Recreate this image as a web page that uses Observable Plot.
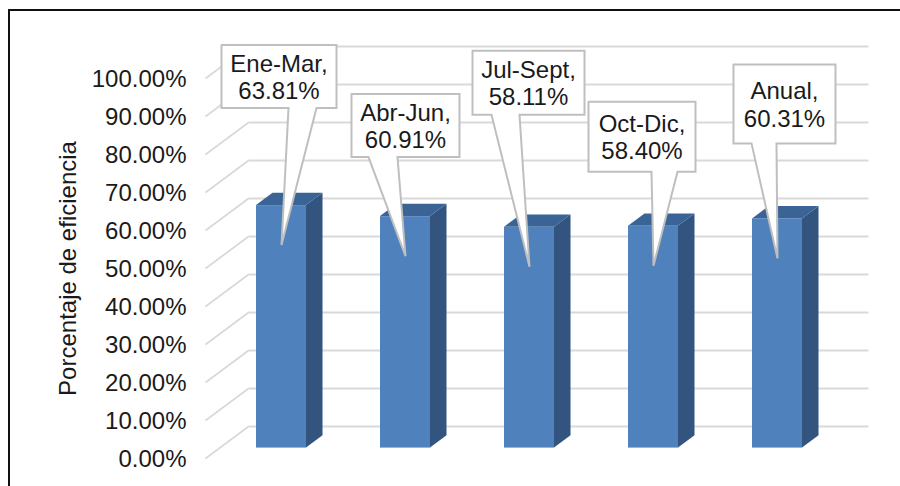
<!DOCTYPE html>
<html>
<head>
<meta charset="utf-8">
<script src="https://cdn.jsdelivr.net/npm/d3@7"></script>
<script src="https://cdn.jsdelivr.net/npm/@observablehq/plot@0.6"></script>
<style>
  html, body { margin: 0; padding: 0; background: #fff; overflow: hidden; }
  #chart { position: relative; width: 900px; height: 486px; }
  #chart svg { display: block; position: absolute; left: 0; top: 0; }
  #border { position: absolute; left: 8px; top: 9px; right: 0; bottom: 0; border-left: 2px solid #111; border-top: 2px solid #111; }
</style>
</head>
<body>
<div id="chart"><div id="border"></div></div>
<script>
// Data
const categories = ["Ene-Mar", "Abr-Jun", "Jul-Sept", "Oct-Dic", "Anual"];
const values = [63.81, 60.91, 58.11, 58.40, 60.31];
const labelValues = ["63.81%", "60.91%", "58.11%", "58.40%", "60.31%"];
const yTicks = [0, 10, 20, 30, 40, 50, 60, 70, 80, 90, 100];
const yTitle = "Porcentaje de eficiencia";

// Layout of the frame
const width = 900, height = 486;
const marginLeft = 205, marginRight = 75, marginTop = 78, marginBottom = 28;
const pxX = categories.length / (width - marginLeft - marginRight); // data units per pixel
const pxY = 100 / (height - marginTop - marginBottom);

// Oblique projection: depth 0 = front plane, 1 = back wall
const wallDx = 43 * pxX, wallDy = 32 * pxY;
const barDepthFront = 14 / 43, barDepthBack = 30.5 / 43;
const barHalf = 25 * pxX;
const px = (i, d) => i + d * wallDx;
const py = (v, d) => v + d * wallDy;

// Callout placement, pixel offsets from the tip of each pointer
const boxLeft = [-60, -54, -57, -65, -44];
const boxRight = [55, 54, 55, 42, 58];
const boxTop = [-200, -162, -216, -164, -194];
const boxBottom = [-137, -99, -152, -94, -115];
const tailLeft = [7, -37, -38, -2, -26];
const tailRight = [35, -8, -10, 24, -1];
const tipDrop = 39.5;

const bars = categories.map((c, i) => ({
  c, v: values[i],
  xl: i + 0.5 - barHalf, xr: i + 0.5 + barHalf
}));

function sidePoly(b) {
  return [
    {x1: px(b.xr, barDepthFront), y1: py(0, barDepthFront), x2: px(b.xr, barDepthFront), y2: py(b.v, barDepthFront), c: b.c},
    {x1: px(b.xr, barDepthBack), y1: py(0, barDepthBack), x2: px(b.xr, barDepthBack), y2: py(b.v, barDepthBack), c: b.c}
  ];
}
function topPoly(b) {
  return [
    {x1: px(b.xl, barDepthFront), y1: py(b.v, barDepthFront), x2: px(b.xl, barDepthBack), y2: py(b.v, barDepthBack), c: b.c},
    {x1: px(b.xr, barDepthFront), y1: py(b.v, barDepthFront), x2: px(b.xr, barDepthBack), y2: py(b.v, barDepthBack), c: b.c}
  ];
}

const callouts = categories.map((c, i) => {
  const tx = px(i + 0.5, barDepthFront);
  const ty = py(values[i], barDepthFront) - tipDrop * pxY;
  const X = o => tx + o * pxX;
  const Y = o => ty - o * pxY;
  const l = X(boxLeft[i]), r = X(boxRight[i]), t = Y(boxTop[i]), b = Y(boxBottom[i]);
  return {
    c, i,
    cx: (l + r) / 2, cy: (t + b) / 2,
    text: `${c},\n${labelValues[i]}`,
    pts: [
      {x: l, y: t, c}, {x: r, y: t, c}, {x: r, y: b, c},
      {x: X(tailRight[i]), y: b, c}, {x: tx, y: ty, c}, {x: X(tailLeft[i]), y: b, c},
      {x: l, y: b, c}, {x: l, y: t, c}
    ]
  };
});

const gridColor = "#d9d9d9", frontColor = "#4f81bd", sideColor = "#32547f", topColor = "#3b6496", calloutStroke = "#bfbfbf";
const font = "'Liberation Sans', Arial, sans-serif";

const chart = Plot.plot({
  width, height, marginLeft, marginRight, marginTop, marginBottom,
  style: {fontFamily: font, background: "transparent"},
  x: {domain: [0, categories.length], axis: null},
  y: {domain: [0, 100], axis: null},
  marks: [
    // walls
    Plot.link(yTicks, {x1: px(0, 0), y1: d => py(d, 0), x2: px(0, 1), y2: d => py(d, 1), stroke: gridColor, strokeWidth: 1.8}),
    Plot.link(yTicks, {x1: px(0, 1), y1: d => py(d, 1), x2: px(categories.length, 1), y2: d => py(d, 1), stroke: gridColor, strokeWidth: 2}),
    // axis
    Plot.axisY(yTicks, {anchor: "left", tickSize: 0, tickPadding: 19, dy: 1, tickFormat: d => d.toFixed(2) + "%", fontSize: 24, fill: "#1a1a1a", label: null}),
    Plot.text([yTitle], {text: d => d, x: -137 * pxX, y: 50, rotate: -90, fontSize: 24, fill: "#1a1a1a"}),
    // bars
    ...bars.map(b => Plot.area(sidePoly(b), {x1: "x1", y1: "y1", x2: "x2", y2: "y2", fill: sideColor})),
    ...bars.map(b => Plot.area(topPoly(b), {x1: "x1", y1: "y1", x2: "x2", y2: "y2", fill: topColor})),
    Plot.rect(bars, {
      x1: d => px(d.xl, barDepthFront), x2: d => px(d.xr, barDepthFront),
      y1: py(0, barDepthFront), y2: d => py(d.v, barDepthFront),
      fill: frontColor
    }),
    // callouts
    ...callouts.map(o => Plot.line(o.pts, {x: "x", y: "y", fill: "#fff", stroke: calloutStroke, strokeWidth: 2, strokeLinejoin: "miter", strokeMiterlimit: 3})),
    Plot.text(callouts, {x: "cx", y: "cy", text: "text", fontSize: 24, lineHeight: 1.15, fill: "#1a1a1a"})
  ]
});
document.getElementById("chart").appendChild(chart);
</script>
</body>
</html>
